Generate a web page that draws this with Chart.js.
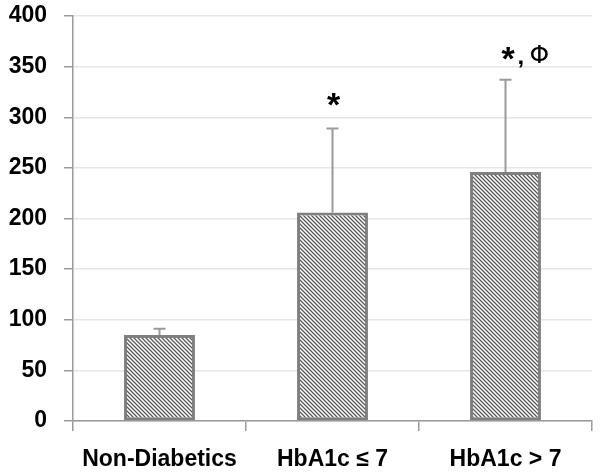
<!DOCTYPE html>
<html>
<head>
<meta charset="utf-8">
<script src="https://cdn.jsdelivr.net/npm/chart.js@4"></script>
<style>
  html, body { margin: 0; padding: 0; background: #fff; }
  #wrap { width: 600px; height: 476px; }
</style>
</head>
<body>
<div id="wrap"><canvas id="chart" width="600" height="476"></canvas></div>
<script>
const groups = ['Non-Diabetics', 'HbA1c \u2264 7', 'HbA1c > 7'];
const means = [85, 206, 246];
const errors = [6, 83, 91];
const marks = ['', '*', '*, \u03A6'];
const yTicks = [0, 50, 100, 150, 200, 250, 300, 350, 400];

function makeHatch() {
  const c = document.createElement('canvas');
  c.width = 4;
  c.height = 4;
  const g = c.getContext('2d');
  g.fillStyle = '#ffffff';
  g.fillRect(0, 0, 4, 4);
  g.strokeStyle = '#5a5a5a';
  g.lineWidth = 1.3;
  g.beginPath();
  g.moveTo(-1, -1); g.lineTo(5, 5);
  g.moveTo(-1, 3); g.lineTo(1, 5);
  g.moveTo(3, -1); g.lineTo(5, 1);
  g.stroke();
  return g.createPattern(c, 'repeat');
}

// error bars + significance marks, positioned with the chart's own scales
const errorBars = {
  id: 'errorBars',
  afterDatasetsDraw(chart) {
    const ctx = chart.ctx;
    const x = chart.scales.x;
    const y = chart.scales.y;
    ctx.save();
    ctx.strokeStyle = '#9a9a9a';
    ctx.lineWidth = 2;
    means.forEach((m, i) => {
      const cx = x.getPixelForValue(i);
      const top = y.getPixelForValue(m + errors[i]);
      const base = y.getPixelForValue(m);
      ctx.beginPath();
      ctx.moveTo(cx, base);
      ctx.lineTo(cx, top);
      ctx.moveTo(cx - 6, top);
      ctx.lineTo(cx + 6, top);
      ctx.stroke();
      if (marks[i]) {
        ctx.fillStyle = '#000';
        ctx.textBaseline = 'alphabetic';
        const parts = marks[i].split(', ');
        ctx.font = 'bold 34px "Liberation Sans", Arial, sans-serif';
        if (parts.length === 1) {
          ctx.textAlign = 'center';
          ctx.fillText('*', cx + 1, top - 12);
        } else {
          ctx.textAlign = 'left';
          const sx = cx - 4;
          ctx.fillText('*', sx, top - 10);
          ctx.font = 'bold 24px "Liberation Sans", Arial, sans-serif';
          ctx.fillText(',', sx + 16, top - 16);
          ctx.font = '25px "DejaVu Sans", sans-serif';
          ctx.fillText(parts[1], sx + 28, top - 17);
        }
      }
    });
    ctx.restore();
  }
};

const chart = new Chart(document.getElementById('chart'), {
  type: 'bar',
  data: {
    labels: groups,
    datasets: [{
      data: means,
      backgroundColor: makeHatch(),
      borderColor: '#7f7f7f',
      borderWidth: 3,
      borderSkipped: false,
      categoryPercentage: 1,
      barPercentage: 0.41
    }]
  },
  options: {
    responsive: false,
    animation: false,
    devicePixelRatio: 1,
    layout: { padding: { top: 16, right: 8, left: 0, bottom: 0 } },
    plugins: {
      legend: { display: false },
      tooltip: { enabled: false }
    },
    scales: {
      x: {
        offset: true,
        grid: {
          offset: true,
          drawOnChartArea: false,
          drawTicks: true,
          tickLength: 10,
          color: '#9a9a9a',
          lineWidth: 1.5
        },
        border: { color: '#9a9a9a', width: 1.5 },
        ticks: {
          color: '#000',
          padding: 15,
          font: { family: '"Liberation Sans", Arial, sans-serif', size: 23, weight: 'bold' }
        },
        afterFit(scale) { scale.height = 55; }
      },
      y: {
        min: 0,
        max: 400,
        afterBuildTicks(scale) {
          scale.ticks = yTicks.map(v => ({ value: v }));
        },
        grid: {
          color: '#e6e6e6',
          lineWidth: 1.5,
          tickColor: '#9a9a9a',
          tickLength: 9
        },
        border: { color: '#9a9a9a', width: 1.5 },
        ticks: {
          color: '#000',
          padding: 17,
          font: { family: '"Liberation Sans", Arial, sans-serif', size: 23, weight: 'bold' }
        },
        afterFit(scale) {
          scale.width = 73;
          scale.paddingTop = 0;
          scale.paddingBottom = 0;
        }
      }
    }
  },
  plugins: [errorBars]
});
</script>
</body>
</html>
